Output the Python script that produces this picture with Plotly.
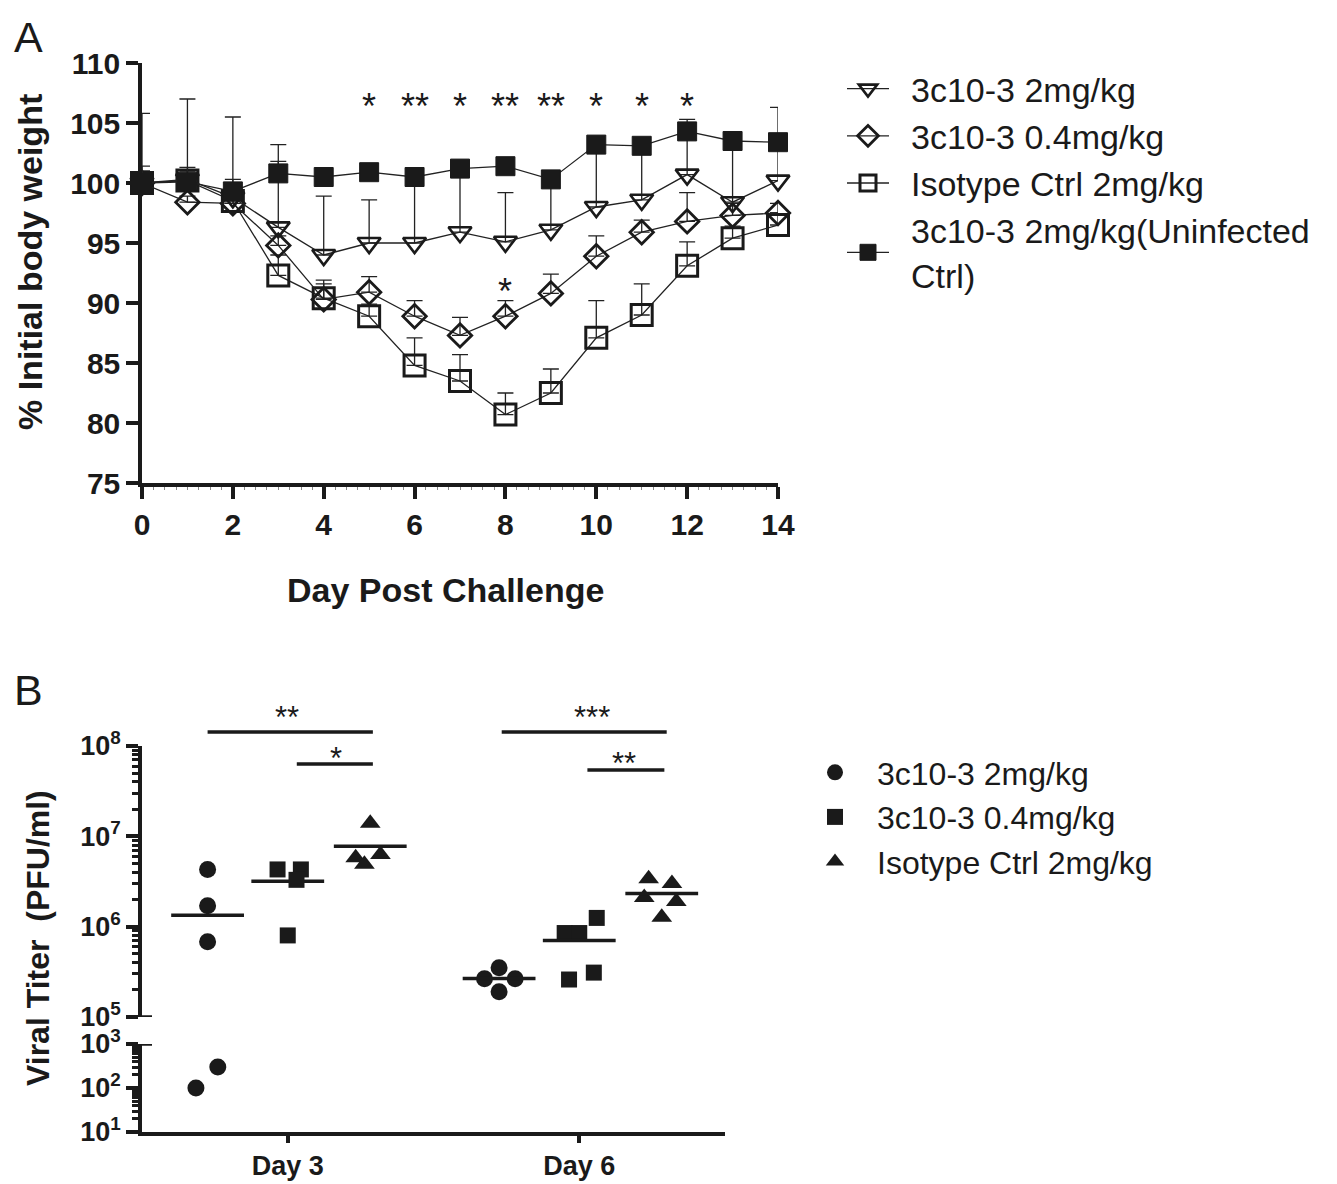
import numpy as np
import plotly.graph_objects as go

# ---------------- Panel A data ----------------
days = list(range(15))
names_a = ["3c10-3 2mg/kg", "3c10-3 0.4mg/kg", "Isotype Ctrl 2mg/kg",
           "3c10-3 2mg/kg(Uninfected<br>Ctrl)"]
w_2mg = [100.0, 100.3, 98.8, 96.3, 94.0, 95.0, 95.0, 95.9, 95.1, 96.1, 98.0, 98.6, 100.7, 98.4, 100.2]
e_2mg = [5.8, 6.7, 6.7, 6.9, 4.9, 3.6, 5.5, 5.3, 4.1, 4.2, 5.2, 4.5, 3.6, 5.1, 6.1]
w_04 = [100.0, 98.4, 98.3, 94.8, 90.3, 90.9, 88.9, 87.3, 88.9, 90.8, 93.9, 95.9, 96.8, 97.3, 97.5]
e_04 = [0.8, 0.5, 0.5, 0.8, 1.6, 1.3, 1.3, 1.5, 1.3, 1.6, 1.7, 1.0, 2.4, 1.0, 0.8]
w_iso = [100.0, 100.2, 98.5, 92.3, 90.4, 88.9, 84.8, 83.5, 80.7, 82.5, 87.1, 89.0, 93.1, 95.4, 96.5]
e_iso = [1.0, 0.8, 0.8, 1.7, 1.2, 1.0, 2.3, 2.2, 1.8, 2.0, 3.1, 2.6, 2.0, 1.0, 1.0]
w_uninf = [100.0, 100.1, 99.3, 100.8, 100.5, 100.9, 100.5, 101.2, 101.4, 100.3, 103.2, 103.1, 104.3, 103.5, 103.4]
e_uninf = [1.4, 1.2, 1.0, 1.0, 0.4, 0.6, 0.4, 0.4, 0.4, 0.6, 0.3, 0.6, 1.0, 0.3, 0.3]
star_days = [5, 6, 7, 8, 9, 10, 11, 12]
star_labels = ["*", "**", "*", "**", "**", "*", "*", "*"]
star_y = 106.4
star2_day, star2_label, star2_y = 8, "*", 91.0
a_yticks = [75, 80, 85, 90, 95, 100, 105, 110]
a_xticks = [0, 2, 4, 6, 8, 10, 12, 14]

# ---------------- Panel B data ----------------
names_b = ["3c10-3 2mg/kg", "3c10-3 0.4mg/kg", "Isotype Ctrl 2mg/kg"]
day_labels = ["Day 3", "Day 6"]
group_offsets = [-0.275, 0.0, 0.283]
d3_circ = [4.3e6, 1.7e6, 6.8e5, 100, 300]
d3_circ_j = [0.0, 0.0, 0.0, -0.04, 0.035]
d3_sq = [4.3e6, 4.3e6, 3.3e6, 8.0e5]
d3_sq_j = [-0.035, 0.045, 0.03, 0.0]
d3_tri = [1.4e7, 5.8e6, 6.3e6, 4.9e6]
d3_tri_j = [0.0, -0.05, 0.035, -0.02]
d6_circ = [3.5e5, 2.65e5, 2.65e5, 1.9e5]
d6_circ_j = [0.0, -0.05, 0.055, 0.0]
d6_sq = [1.25e6, 8.5e5, 8.5e5, 2.6e5, 3.1e5]
d6_sq_j = [0.06, -0.05, 0.0, -0.035, 0.05]
d6_tri = [3.4e6, 3.0e6, 2.1e6, 1.9e6, 1.27e6]
d6_tri_j = [-0.045, 0.035, -0.06, 0.05, 0.0]
# significance brackets: (x0, x1, line y px, label, label y px, label x)
sig = [(0.725, 1.292, 732, "**", 718, 0.997),
       (1.031, 1.292, 764, "*", 758, 1.165),
       (1.734, 2.300, 732, "***", 718, 2.043),
       (2.028, 2.292, 770, "**", 763, 2.153)]

# page body has an 8px margin; the figure fills the rest of the window
OFF = 8
W, H = 1337 - OFF, 1184 - OFF
FONT = "Liberation Sans"
INK = "#1a1a1a"
PAD = "\u2002"  # small lead-in so legend text sits a little right of its symbol

def px_x(p):
    return (p - OFF) / W

def px_y(p):
    return 1 - (p - OFF) / H

fig = go.Figure()

# Panel A traces (drawn in order so the filled squares sit on top)
a_series = [
    (names_a[2], w_iso, e_iso, "square-open", 21, 3.0, 3),
    (names_a[1], w_04, e_04, "diamond-open", 18, 2.8, 2),
    (names_a[0], w_2mg, e_2mg, "triangle-down-open", 20, 2.6, 1),
    (names_a[3], w_uninf, e_uninf, "square", 19, 1, 4),
]
for name, y, e, sym, size, lw, rank in a_series:
    fig.add_trace(go.Scatter(
        x=days, y=y, name=PAD + name.replace("<br>", "<br>" + PAD),
        mode="lines+markers",
        line=dict(color="#222222", width=1.3),
        marker=dict(symbol=sym, size=size, color=INK,
                    line=dict(color=INK, width=lw)),
        error_y=dict(type="data", array=e, arrayminus=[0] * len(e),
                     symmetric=False, color="#222222", thickness=1.3, width=8),
        legendrank=rank, legend="legend",
        xaxis="x", yaxis="y", cliponaxis=False,
    ))

# Panel B traces
b_groups = [
    (names_b[0], [d3_circ, d6_circ], [d3_circ_j, d6_circ_j], "circle", 17),
    (names_b[1], [d3_sq, d6_sq], [d3_sq_j, d6_sq_j], "square", 16),
    (names_b[2], [d3_tri, d6_tri], [d3_tri_j, d6_tri_j], "triangle-up", 18),
]
for gi, (name, vals, jits, sym, size) in enumerate(b_groups):
    xs, ys = [], []
    mx, my = [], []
    for di, (v, j) in enumerate(zip(vals, jits)):
        for vv, jj in zip(v, j):
            xs.append(di + 1 + group_offsets[gi] + jj)
            ys.append(vv)
        mx.append(di + 1 + group_offsets[gi])
        my.append(float(np.mean(v)))
    xs = np.array(xs)
    ys = np.array(ys)
    up = ys >= 1e5
    lo = ys < 1e5
    for mask, xa, ya, show in [(up, "x2", "y2", True), (lo, "x3", "y3", False)]:
        fig.add_trace(go.Scatter(
            x=xs[mask], y=ys[mask], mode="markers", name=name,
            marker=dict(symbol=sym, size=size, color=INK),
            showlegend=show, legend="legend2", xaxis=xa, yaxis=ya,
        ))
    fig.add_trace(go.Scatter(
        x=mx, y=my, mode="markers", showlegend=False,
        marker=dict(symbol="line-ew", size=52,
                    line=dict(color=INK, width=3.5)),
        xaxis="x2", yaxis="y2", hoverinfo="skip",
    ))

tickfont = dict(family=FONT, size=30, color=INK, weight="bold")
tickfont_b = dict(family=FONT, size=27, color=INK, weight="bold")

def sup_labels(vals):
    return ["10<sup>%d</sup>" % int(round(np.log10(v))) for v in vals]

b_up_major = [1e5, 1e6, 1e7, 1e8]
b_lo_major = [1e1, 1e2, 1e3]
b_up_minor = [m * 10 ** e for e in range(5, 8) for m in range(2, 10)]
b_lo_minor = [m * 10 ** e for e in range(1, 3) for m in range(2, 10)]

axis_common = dict(showgrid=False, zeroline=False, showline=True,
                   linecolor=INK, linewidth=3.5, ticks="outside",
                   tickcolor=INK, tickwidth=3.5, ticklen=12)

fig.update_layout(
    width=W, height=H, margin=dict(l=0, r=0, t=0, b=0, autoexpand=False),
    paper_bgcolor="white", plot_bgcolor="white",
    font=dict(family=FONT, color=INK),
    showlegend=True,
    xaxis=dict(domain=[px_x(142), px_x(778)], range=[0, 14], anchor="y",
               tickvals=a_xticks, tickfont=tickfont,
               minor=dict(dtick=0.25, ticks="outside", ticklen=3,
                          tickwidth=1, tickcolor="#888888"),
               **axis_common),
    yaxis=dict(domain=[px_y(483), px_y(63)], range=[75, 110], anchor="x",
               tickvals=a_yticks, tickfont=tickfont, **axis_common),
    xaxis2=dict(domain=[px_x(142), px_x(725)], range=[0.5, 2.5], anchor="y2",
                visible=False),
    yaxis2=dict(domain=[px_y(1017), px_y(746)], type="log", range=[5, 8],
                anchor="x2", tickvals=b_up_major, tickfont=tickfont_b,
                ticktext=sup_labels(b_up_major),
                minor=dict(tickvals=b_up_minor, ticks="outside", ticklen=6,
                           tickwidth=2.5, tickcolor=INK),
                **axis_common),
    xaxis3=dict(domain=[px_x(142), px_x(725)], range=[0.5, 2.5], anchor="y3",
                tickvals=[1, 2], ticktext=day_labels,
                tickfont=dict(family=FONT, size=27, color=INK, weight="bold"),
                **{**axis_common, "ticklen": 7}),
    yaxis3=dict(domain=[px_y(1132), px_y(1044)], type="log", range=[1, 3],
                anchor="x3", tickvals=b_lo_major, tickfont=tickfont_b,
                ticktext=sup_labels(b_lo_major),
                minor=dict(tickvals=b_lo_minor, ticks="outside", ticklen=6,
                           tickwidth=2.5, tickcolor=INK),
                **axis_common),
    legend=dict(x=px_x(842), y=px_y(60), xanchor="left", yanchor="top",
                font=dict(family=FONT, size=34, color=INK),
                bgcolor="rgba(0,0,0,0)", itemwidth=42, tracegroupgap=0),
    legend2=dict(x=px_x(793), y=px_y(745), xanchor="left", yanchor="top",
                 font=dict(family=FONT, size=32, color=INK),
                 bgcolor="rgba(0,0,0,0)", itemwidth=74),
)

# axis-break caps at the ends of the split y axis
for ya, yv in [("y2", 1e5), ("y3", 1e3)]:
    fig.add_shape(type="line", xref="paper", yref=ya,
                  x0=px_x(142), x1=px_x(152), y0=yv, y1=yv,
                  line=dict(color=INK, width=3.5))

ann = []
for d, lab in zip(star_days, star_labels):
    ann.append(dict(x=d, y=star_y, xref="x", yref="y", text=lab, showarrow=False,
                    xanchor="center", yanchor="middle",
                    font=dict(family=FONT, size=36, color=INK)))
ann.append(dict(x=star2_day, y=star2_y, xref="x", yref="y", text=star2_label,
                showarrow=False, xanchor="center", yanchor="middle",
                font=dict(family=FONT, size=36, color=INK)))
# axis titles and panel letters
ann += [
    dict(x=px_x(30), y=px_y(262), xref="paper", yref="paper",
         text="% Initial body weight", textangle=-90, showarrow=False,
         xanchor="center", yanchor="middle",
         font=dict(family=FONT, size=34, weight="bold", color=INK)),
    dict(x=px_x(445), y=px_y(590), xref="paper", yref="paper",
         text="Day Post Challenge", showarrow=False,
         xanchor="center", yanchor="middle",
         font=dict(family=FONT, size=34, weight="bold", color=INK)),
    dict(x=px_x(38), y=px_y(938), xref="paper", yref="paper",
         text="Viral Titer\u00a0 (PFU/ml)", textangle=-90, showarrow=False,
         xanchor="center", yanchor="middle",
         font=dict(family=FONT, size=32, weight="bold", color=INK)),
    dict(x=px_x(28), y=px_y(37), xref="paper", yref="paper", text="A",
         showarrow=False, xanchor="center", yanchor="middle",
         font=dict(family=FONT, size=43, color=INK)),
    dict(x=px_x(28), y=px_y(690), xref="paper", yref="paper", text="B",
         showarrow=False, xanchor="center", yanchor="middle",
         font=dict(family=FONT, size=43, color=INK)),
]
for x0, x1, ly, lab, ty, tx in sig:
    fig.add_shape(type="line", xref="x2", yref="paper", x0=x0, x1=x1,
                  y0=px_y(ly), y1=px_y(ly), line=dict(color=INK, width=3.5))
    ann.append(dict(x=tx, y=px_y(ty), xref="x2", yref="paper", text=lab,
                    showarrow=False, xanchor="center", yanchor="middle",
                    font=dict(family=FONT, size=31, color=INK)))
fig.update_layout(annotations=ann)

fig.write_html("out.html")
